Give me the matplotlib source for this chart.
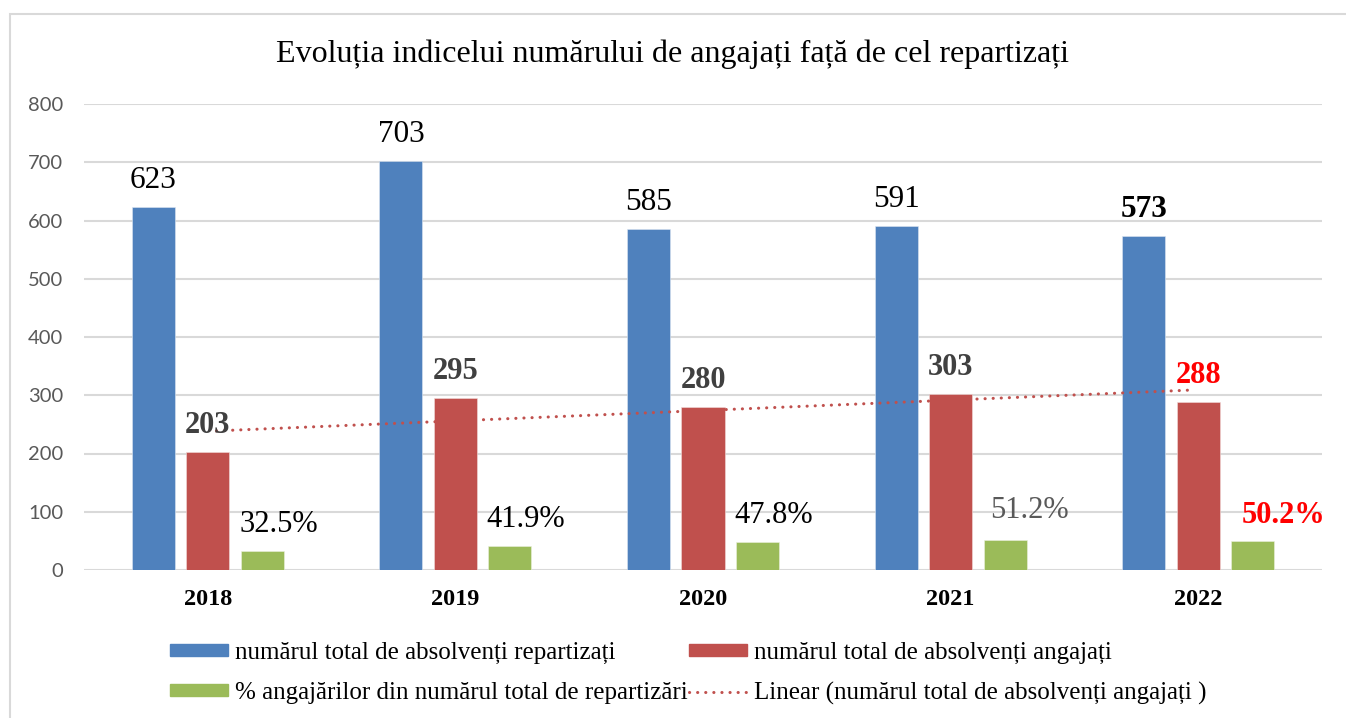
import numpy as np
import matplotlib
matplotlib.use("Agg")
import matplotlib.pyplot as plt
from matplotlib.patches import Rectangle, Patch
from matplotlib.lines import Line2D

SERIF = "Liberation Serif"
plt.rcParams["font.family"] = [SERIF, "DejaVu Serif"]

# ---- data ----
years = ["2018", "2019", "2020", "2021", "2022"]
repartizati = [623, 703, 585, 591, 573]
angajati = [203, 295, 280, 303, 288]
procent = [32.5, 41.9, 47.8, 51.2, 50.2]
yticks = [0, 100, 200, 300, 400, 500, 600, 700, 800]

title = "Evoluția indicelui numărului de angajați față de cel repartizați"
leg_labels = ["numărul total de absolvenți repartizați",
              "numărul total de absolvenți angajați",
              "% angajărilor din numărul total de repartizări",
              "Linear (numărul total de absolvenți angajați )"]

BLUE, RED, GREEN = "#4F81BD", "#C0504D", "#9BBB59"
W, H = 1346, 718

fig = plt.figure(figsize=(W / 100, H / 100), dpi=100)
ax = fig.add_axes([84 / W, (H - 570) / H, (1322 - 84) / W, (570 - 104) / H])

x = np.arange(len(years))
bw = 0.174
off = 0.22
ax.bar(x - off, repartizati, bw, color=BLUE, edgecolor="#DCE6F2", linewidth=0.4, zorder=3)
ax.bar(x, angajati, bw, color=RED, edgecolor="#F2DCDB", linewidth=0.4, zorder=3)
ax.bar(x + off, procent, bw, color=GREEN, edgecolor="#EBF1DE", linewidth=0.4, zorder=3)

# linear trendline of the employed series
coef = np.polyfit(x, angajati, 1)
xt = np.linspace(0.035, 3.98, 50)
ax.plot(xt, np.polyval(coef, xt), color=RED, lw=2.2, linestyle=(0, (0.05, 2.6)),
        dash_capstyle="round", zorder=4)

ax.set_xlim(-0.5, len(years) - 0.5)
ax.set_ylim(0, 800)
ax.set_yticks(yticks)
ax.set_xticks(x)
ax.set_xticklabels(years, fontfamily=SERIF, fontweight="bold", fontsize=17.5, color="black")
for lab in ax.get_yticklabels():
    lab.set_fontfamily("Lato")
    lab.set_fontsize(14.5)
    lab.set_color("#595959")
ax.tick_params(axis="both", length=0)
ax.tick_params(axis="y", pad=15)
ax.tick_params(axis="x", pad=14)
ax.grid(axis="y", color="#D9D9D9", lw=1.5, zorder=0)
for s in ax.spines.values():
    s.set_visible(False)

px = 72 / 100.0
# labels: blue
for i, v in enumerate(repartizati):
    bold = i == 4
    ax.annotate(str(v), (i - off, v), xytext=(0, 19 * px), textcoords="offset points",
                ha="center", va="baseline", fontfamily=SERIF, fontsize=22.5,
                fontweight="bold" if bold else "normal", color="black", zorder=5)
# labels: red
for i, v in enumerate(angajati):
    last = i == 4
    ax.annotate(str(v), (i, v), xytext=(0, 19 * px), textcoords="offset points",
                ha="center", va="baseline", fontfamily=SERIF, fontsize=22,
                fontweight="bold", color="#FF0000" if last else "#404040", zorder=5)
# labels: green
g_dx = [16.5, 16, 16, 24.5, 31]
g_dy = [19, 19, 19, 22, 18]
g_col = ["black", "black", "black", "#595959", "#FF0000"]
for i, v in enumerate(procent):
    ax.annotate(f"{v:.1f}%", (i + off, v), xytext=(g_dx[i] * px, g_dy[i] * px),
                textcoords="offset points", ha="center", va="baseline",
                fontfamily=SERIF, fontsize=22,
                fontweight="bold" if i == 4 else "normal", color=g_col[i], zorder=5)

fig.text(0.5, (H - 62) / H, title, ha="center", va="baseline", fontfamily=SERIF,
         fontsize=23, color="black")

handles = [Patch(color=BLUE), Patch(color=GREEN), Patch(color=RED),
           Line2D([], [], color=RED, lw=2.2, linestyle=(0, (0.05, 2.6)), dash_capstyle="round")]
labels = [leg_labels[0], leg_labels[2], leg_labels[1], leg_labels[3]]
leg = fig.legend(handles, labels, ncol=2, loc="upper left",
                 bbox_to_anchor=(170 / W, (H - 642) / H), frameon=False,
                 prop={"family": [SERIF], "size": 18}, handlelength=2.32, handleheight=0.4,
                 handletextpad=0.28, columnspacing=0.05, labelspacing=0.72, borderpad=0,
                 borderaxespad=0)

fig.add_artist(Rectangle((10 / W, -0.05), 1.2, (H - 14) / H + 0.05, transform=fig.transFigure,
                         fill=False, edgecolor="#D9D9D9", lw=1.5))

fig.savefig("out.png", dpi=100, facecolor="white")
